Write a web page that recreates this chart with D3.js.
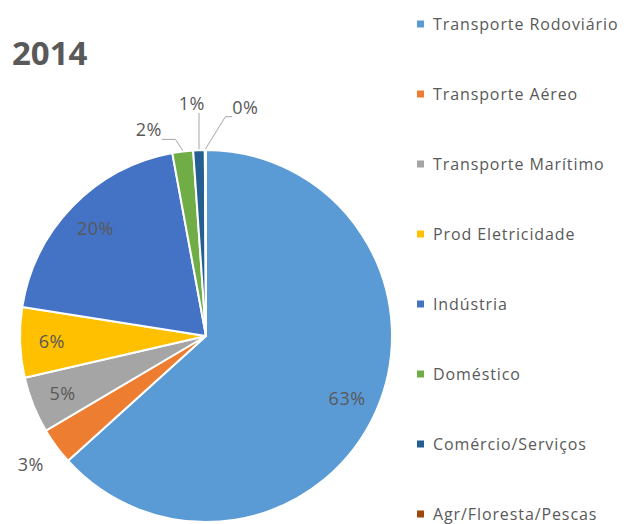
<!DOCTYPE html>
<html>
<head>
<meta charset="utf-8">
<script src="https://cdn.jsdelivr.net/npm/d3@7"></script>
<style>
  body { margin: 0; background: #fff; }
  text { font-family: "Open Sans", sans-serif; fill: #595959; }
</style>
</head>
<body>
<div id="chart"></div>
<script>
const categories = [
  "Transporte Rodoviário",
  "Transporte Aéreo",
  "Transporte Marítimo",
  "Prod Eletricidade",
  "Indústria",
  "Doméstico",
  "Comércio/Serviços",
  "Agr/Floresta/Pescas"
];
const values = [63.3, 3.2, 4.9, 6.1, 19.6, 1.8, 1.0, 0.1];
const colors = ["#5b9bd5", "#ed7d31", "#a5a5a5", "#ffc000", "#4472c4", "#70ad47", "#255e91", "#9e480e"];
const title = "2014";

const width = 627;
const height = 524;
const cx = 206, cy = 336, radius = 186;

// small slices get their label outside, Excel moves them apart
const outsideNudge = { 1: [0, 0], 5: [-30, 10], 6: [-6, -15], 7: [40, -11] };

const svg = d3.select("#chart").append("svg")
  .attr("width", width)
  .attr("height", height);

svg.append("text")
  .attr("x", 12)
  .attr("y", 65)
  .attr("font-size", "33px")
  .attr("font-weight", "bold")
  .text(title);

const data = categories.map(function(c, i) { return { name: c, value: values[i], i: i }; });

const pie = d3.pie().sort(null).value(function(d) { return d.value; });
const arcs = pie(data);

const arc = d3.arc().innerRadius(0).outerRadius(radius);
const inLabel = d3.arc().innerRadius(radius * 0.83).outerRadius(radius * 0.83);
const outLabel = d3.arc().innerRadius(radius * 1.17).outerRadius(radius * 1.17);
const edge = d3.arc().innerRadius(radius).outerRadius(radius);

const g = svg.append("g").attr("transform", "translate(" + cx + "," + cy + ")");

g.selectAll("path.slice")
  .data(arcs)
  .enter()
  .append("path")
  .attr("class", "slice")
  .attr("d", arc)
  .attr("fill", function(d) { return colors[d.data.i]; })
  .attr("stroke", "#fff")
  .attr("stroke-width", 2)
  .attr("stroke-linejoin", "round");

const total = d3.sum(values);

arcs.forEach(function(d) {
  const pct = Math.round(d.data.value / total * 100) + "%";
  const outside = outsideNudge[d.data.i] !== undefined;
  let p;
  if (outside) {
    p = outLabel.centroid(d);
    p = [p[0] + outsideNudge[d.data.i][0], p[1] + outsideNudge[d.data.i][1]];
  } else {
    p = inLabel.centroid(d);
  }
  const t = g.append("text")
    .attr("x", p[0])
    .attr("y", p[1])
    .attr("dy", "0.35em")
    .attr("text-anchor", "middle")
    .attr("font-size", "18px")
    .attr("letter-spacing", "0.5px")
    .text(pct);

  if (outside && d.data.value < 3) {
    const bb = t.node().getBBox();
    const e = edge.centroid(d);
    const by = bb.y + bb.height - 2;
    const sx = Math.max(bb.x, Math.min(bb.x + bb.width, e[0]));
    const dy = e[1] - by;
    const dir = Math.sign(e[0] - sx);
    const ex = dir === 0 ? sx : e[0] - dir * Math.min(Math.abs(e[0] - sx), dy * 0.6);
    g.append("path")
      .attr("d", d3.line()([[sx, by], [ex, by], [e[0], e[1] - 1]]))
      .attr("fill", "none")
      .attr("stroke", "#a6a6a6")
      .attr("stroke-width", 1);
  }
});

// legend
const legend = svg.append("g").attr("transform", "translate(417,24)");
const item = legend.selectAll("g")
  .data(categories)
  .enter()
  .append("g")
  .attr("transform", function(d, i) { return "translate(0," + (i * 70) + ")"; });

item.append("rect")
  .attr("x", 0)
  .attr("y", -3.5)
  .attr("width", 7)
  .attr("height", 7)
  .attr("fill", function(d, i) { return colors[i]; });

item.append("text")
  .attr("x", 16)
  .attr("y", 0)
  .attr("dy", "0.35em")
  .attr("font-size", "16px")
  .attr("letter-spacing", "0.9px")
  .text(function(d) { return d; });
</script>
</body>
</html>
